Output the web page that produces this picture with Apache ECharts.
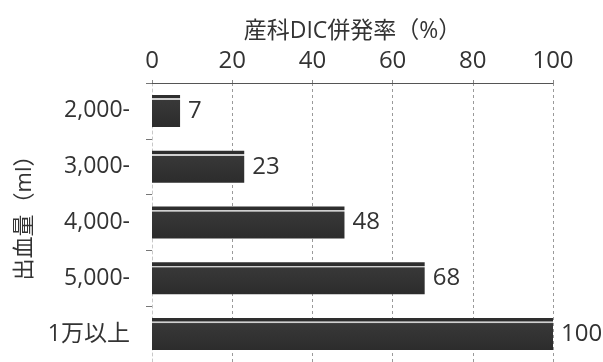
<!DOCTYPE html>
<html>
<head>
<meta charset="utf-8">
<script src="https://cdn.jsdelivr.net/npm/echarts@6/dist/echarts.min.js"></script>
<style>
  html, body { margin: 0; padding: 0; background: #fff; }
  #chart { width: 603px; height: 362px; }
</style>
</head>
<body>
<div id="chart"></div>
<script>
// Blood loss groups and DIC complication rate (%)
const categories = ['2,000-', '3,000-', '4,000-', '5,000-', '1万以上'];
const rates = [7, 23, 48, 68, 100];
const xTicks = [0, 20, 40, 60, 80, 100];

const FONT = '"Open Sans", "Noto Sans CJK JP", sans-serif';
const TEXT = '#333333';

// dark bar with a thin light streak just below its upper edge
const barFill = new echarts.graphic.LinearGradient(0, 0, 0, 1, [
  { offset: 0.00, color: '#2e2e2e' },
  { offset: 0.10, color: '#2e2e2e' },
  { offset: 0.11, color: '#d0d0d0' },
  { offset: 0.15, color: '#d0d0d0' },
  { offset: 0.17, color: '#383838' },
  { offset: 1.00, color: '#2c2c2c' }
]);

const chart = echarts.init(document.getElementById('chart'));
chart.setOption({
  backgroundColor: '#ffffff',
  animation: false,
  grid: { left: 152, top: 83, width: 401, height: 288, containLabel: false },
  xAxis: {
    type: 'value',
    position: 'top',
    min: xTicks[0],
    max: xTicks[xTicks.length - 1],
    interval: 20,
    name: '産科DIC併発率（%）',
    nameLocation: 'middle',
    nameGap: 40,
    nameTextStyle: { fontFamily: FONT, fontSize: 23, color: TEXT },
    axisLine: { show: true, lineStyle: { color: '#555', width: 1.2 } },
    axisTick: { show: true, length: 3, lineStyle: { color: '#888' } },
    axisLabel: { fontFamily: FONT, fontSize: 24, color: TEXT, margin: 10 },
    splitLine: { show: true, lineStyle: { color: '#9a9a9a', width: 1, type: [3, 3] } }
  },
  yAxis: {
    type: 'category',
    inverse: true,
    data: categories,
    name: '出血量（ml）',
    nameLocation: 'middle',
    nameRotate: 90,
    nameGap: 116,
    nameTextStyle: { fontFamily: FONT, fontSize: 22, color: TEXT, padding: [0, 0, 0, 20] },
    axisLine: { show: true, lineStyle: { color: '#c8c8c8', width: 1, type: [3, 3] } },
    axisTick: { show: true, length: 6, lineStyle: { color: '#777' } },
    axisLabel: { fontFamily: FONT, fontSize: 23, color: TEXT, margin: 22 }
  },
  series: [{
    type: 'bar',
    data: rates,
    barWidth: 32,
    itemStyle: { color: barFill },
    label: {
      show: true,
      position: 'right',
      distance: 8,
      fontFamily: FONT,
      fontSize: 24,
      color: TEXT
    }
  }]
});
</script>
</body>
</html>
